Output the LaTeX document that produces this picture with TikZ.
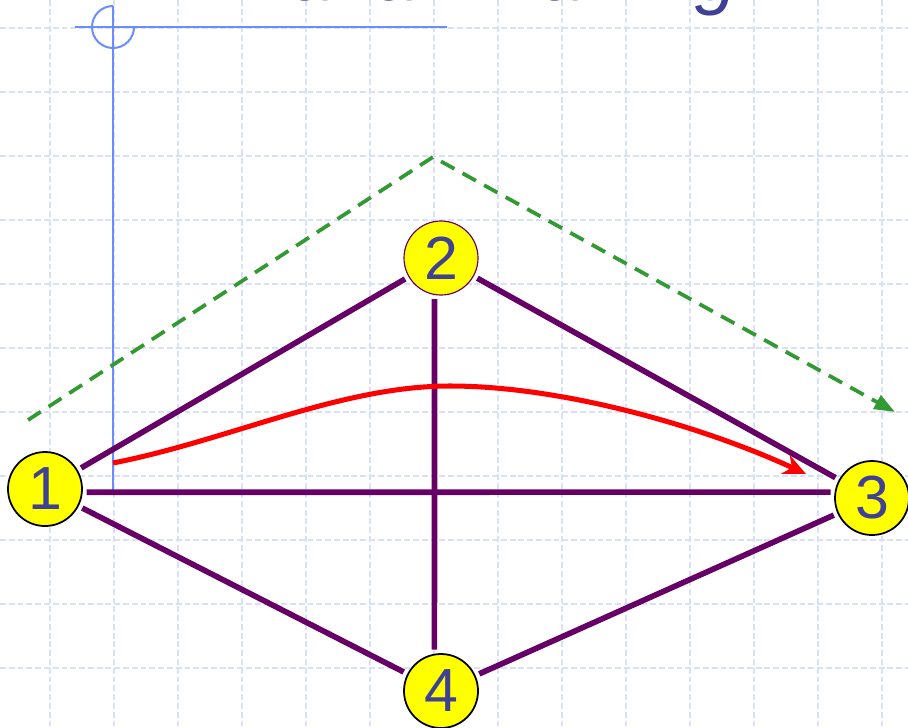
\documentclass[tikz,border=0pt]{standalone}
\usepackage{fontspec}
\setsansfont{Liberation Sans}
\usetikzlibrary{arrows.meta}
\definecolor{edgepurple}{HTML}{660066}
\definecolor{vyellow}{HTML}{FFFF00}
\definecolor{digitblue}{HTML}{3F4294}
\definecolor{routegreen}{HTML}{339933}
\definecolor{axisblue}{HTML}{6B8CFF}
\definecolor{gridblue}{HTML}{D8E0FA}
\tikzset{
  vertex/.style    = {circle, draw=black, line width=1.5pt, fill=vyellow, minimum size=2.22cm,
                      inner sep=0pt, text=digitblue, font=\sffamily\fontsize{52}{52}\selectfont},
  edge/.style      = {draw=edgepurple, line width=4.8pt, shorten <=0.12cm, shorten >=0.12cm},
  gridline/.style  = {draw=gridblue, line width=1pt, dash pattern=on 5pt off 2.5pt},
  axis/.style      = {draw=axisblue, line width=1.7pt},
  detour/.style    = {draw=routegreen, line width=3.2pt, dash pattern=on 13pt off 8pt,
                      -{Triangle[length=0.62cm, width=0.45cm]}},
  reroute/.style   = {draw=red, line width=4.3pt, -{Stealth[length=0.68cm, width=0.62cm, inset=0.22cm]}},
  titletext/.style = {text=digitblue, font=\sffamily\itshape\fontsize{64}{64}\selectfont, inner sep=0pt},
}
\begin{document}
\begin{tikzpicture}[x=0.03cm, y=-0.03cm]
  \useasboundingbox[fill=white] (0,0) rectangle (908,727);
  % background grid
  \foreach \gx in {50,114,...,882}
    \draw[gridline] (\gx,0) -- (\gx,727);
  \foreach \gy in {28,92,...,668}
    \draw[gridline] (0,\gy) -- (908,\gy);
  % title, cut off by the page edge
  \node[titletext, anchor=base east] (title) at (738,0) {Planar Drawing};
  % axis marker
  \draw[axis] (75,27) -- (447,27);
  \draw[axis] (113,6) -- (113,493);
  \draw[axis] (113,6) arc[start angle=270, end angle=0, radius=21];
  % vertices
  \node[vertex] (v1) at (45,489) {1};
  \node[vertex, draw=edgepurple, line width=1pt] (v2) at (441,258) {2};
  \node[vertex] (v3) at (872,498) {3};
  \node[vertex] (v4) at (441,691) {4};
  % edges
  \draw[edge] (v1) -- (v2);
  \draw[edge] (v2) -- (v3);
  \draw[edge] (v1.-5) -- (v3.171);
  \draw[edge] (v1) -- (v4);
  \draw[edge] (v3) -- (v4);
  \draw[edge] (v2.260) -- (v4.100);
  % green route over vertex 2
  \coordinate (gs) at (28,420);
  \coordinate (gp) at (433,157);
  \coordinate (ge) at (895,412);
  \draw[detour] (gs) -- (gp) -- (ge);
  % red curve from 1 to 3
  \coordinate (rs) at (113,463);
  \coordinate (re) at (806,474);
  \draw[reroute] (rs) .. controls (230,440) and (340,386) .. (450,386)
                      .. controls (560,386) and (700,425) .. (re);
\end{tikzpicture}
\end{document}
